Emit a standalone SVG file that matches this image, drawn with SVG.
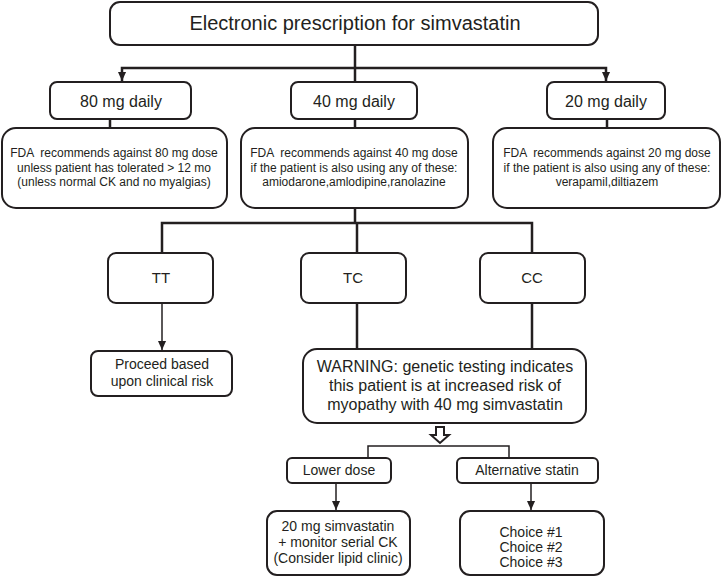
<svg xmlns="http://www.w3.org/2000/svg" width="722" height="577" viewBox="0 0 722 577">
<defs>
<marker id="ah" markerUnits="userSpaceOnUse" markerWidth="9" markerHeight="9" viewBox="0 0 10 10" refX="10" refY="5" orient="auto"><path d="M0,0.5 L10,5 L0,9.5 Z" fill="#231f20"/></marker>
</defs>
<style>
.box{fill:#fff;stroke:#231f20;stroke-width:2}
.t{font-family:"Liberation Sans",Arial,sans-serif;fill:#231f20;text-anchor:middle;white-space:pre}
.c{fill:none;stroke:#231f20;stroke-width:2.5}
.thin{fill:none;stroke:#231f20;stroke-width:1.5}
.s12{font-size:12px}
.s14{font-size:14px}
.s15{font-size:15px}
.s16{font-size:16px}
.s20{font-size:20px}
</style>
<rect width="722" height="577" fill="#fff"/>
<g id="connectors">
<path class="c" d="M355,45 V82"/>
<path class="c" d="M355,68 H122 V81" marker-end="url(#ah)"/>
<path class="c" d="M355,68 H606 V81" marker-end="url(#ah)"/>
<path class="c" d="M110,119 V128 M355,119 V128 M607,119 V128"/>
<path class="c" d="M355,208 V223 M162,253 V223 H532 V253 M357,223 V253"/>
<path class="thin" d="M162,303 V350" marker-end="url(#ah)"/>
<path class="c" d="M357,303 V349 M532,303 V349"/>
<path class="thin" d="M368,458 V446 H509 V458"/>
<path class="thin" d="M336,483 V510" marker-end="url(#ah)"/>
<path class="thin" d="M531,483 V510" marker-end="url(#ah)"/>
<polygon points="436,427 444,427 444,435 449,435 440,443 431,435 436,435" fill="#fff" stroke="#231f20" stroke-width="2" stroke-linejoin="miter"/>
</g>
<g id="n-top"><rect class="box" x="110" y="2" width="488" height="43" rx="10"/><text class="t s20" x="355" y="30">Electronic prescription for simvastatin</text></g>
<g id="n-80"><rect class="box" x="50" y="82" width="141" height="37" rx="7"/><text class="t s16" x="121" y="107">80 mg daily</text></g>
<g id="n-40"><rect class="box" x="291" y="82" width="126" height="37" rx="7"/><text class="t s16" x="354" y="107">40 mg daily</text></g>
<g id="n-20"><rect class="box" x="547" y="82" width="118" height="37" rx="7"/><text class="t s16" x="606" y="107">20 mg daily</text></g>
<g id="n-fda80"><rect class="box" x="2" y="128" width="225" height="80" rx="14"/>
<text class="t s12" x="114" y="157" xml:space="preserve">FDA  recommends against 80 mg dose</text>
<text class="t s12" x="114" y="172">unless patient has tolerated &gt; 12 mo</text>
<text class="t s12" x="114" y="186">(unless normal CK and no myalgias)</text></g>
<g id="n-fda40"><rect class="box" x="241" y="128" width="227" height="80" rx="14"/>
<text class="t s12" x="354" y="157" xml:space="preserve">FDA  recommends against 40 mg dose</text>
<text class="t s12" x="354" y="172">if the patient is also using any of these:</text>
<text class="t s12" x="354" y="186">amiodarone,amlodipine,ranolazine</text></g>
<g id="n-fda20"><rect class="box" x="493" y="128" width="227" height="80" rx="14"/>
<text class="t s12" x="607" y="157" xml:space="preserve">FDA  recommends against 20 mg dose</text>
<text class="t s12" x="607" y="172">if the patient is also using any of these:</text>
<text class="t s12" x="607" y="186">verapamil,diltiazem</text></g>
<g id="n-tt"><rect class="box" x="108" y="253" width="105" height="50" rx="8"/><text class="t s15" x="161" y="283">TT</text></g>
<g id="n-tc"><rect class="box" x="301" y="253" width="105" height="50" rx="8"/><text class="t s15" x="353" y="283">TC</text></g>
<g id="n-cc"><rect class="box" x="480" y="253" width="105" height="50" rx="8"/><text class="t s15" x="532" y="283">CC</text></g>
<g id="n-proceed"><rect class="box" x="91" y="351" width="141" height="45" rx="7"/>
<text class="t s14" x="162" y="369">Proceed based</text>
<text class="t s14" x="162" y="386">upon clinical risk</text></g>
<g id="n-warning"><rect class="box" x="303" y="349" width="283" height="74" rx="14"/>
<text class="t s16" x="445" y="372">WARNING: genetic testing indicates</text>
<text class="t s16" x="445" y="391">this patient is at increased risk of</text>
<text class="t s16" x="445" y="410">myopathy with 40 mg simvastatin</text></g>
<g id="n-lower"><rect class="box" x="287" y="458" width="104" height="25" rx="5"/><text class="t s14" x="339" y="475">Lower dose</text></g>
<g id="n-alt"><rect class="box" x="457" y="458" width="141" height="25" rx="5"/><text class="t s14" x="527" y="475">Alternative statin</text></g>
<g id="n-20mg"><rect class="box" x="267" y="511" width="143" height="64" rx="10"/>
<text class="t s14" x="338" y="531">20 mg simvastatin</text>
<text class="t s14" x="338" y="547">+ monitor serial CK</text>
<text class="t s14" x="338" y="563">(Consider lipid clinic)</text></g>
<g id="n-choices"><rect class="box" x="460" y="511" width="144" height="64" rx="10"/>
<text class="t s14" x="531" y="537">Choice #1</text>
<text class="t s14" x="531" y="552">Choice #2</text>
<text class="t s14" x="531" y="567">Choice #3</text></g>
</svg>
